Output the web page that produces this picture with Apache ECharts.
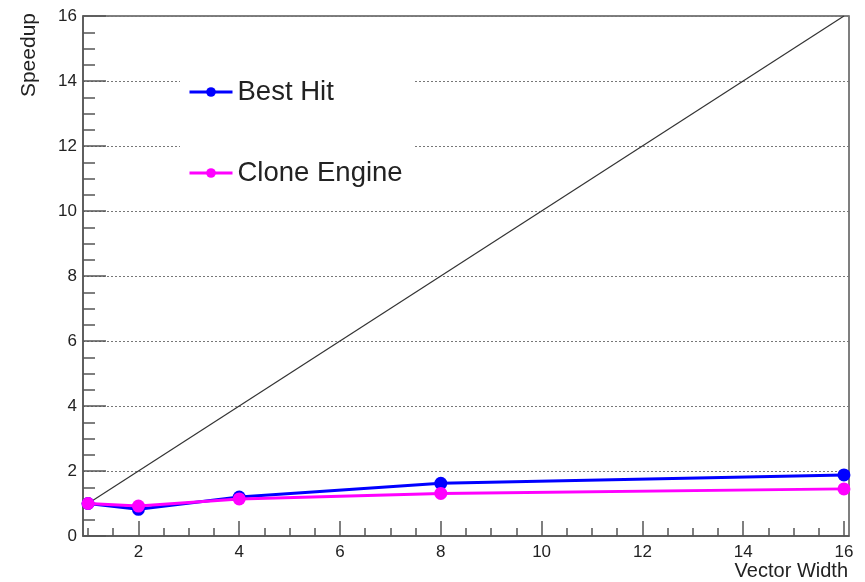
<!DOCTYPE html>
<html>
<head>
<meta charset="utf-8">
<script src="https://cdn.jsdelivr.net/npm/echarts@6/dist/echarts.min.js"></script>
<style>
  html, body { margin: 0; padding: 0; background: #fff; }
  #chart { width: 865px; height: 582px; }
</style>
</head>
<body>
<div id="chart"></div>
<script>
// vector widths and measured speedups
const widths = [1, 2, 4, 8, 16]
const bestHit = [1.0, 0.82, 1.2, 1.62, 1.88]
const cloneEngine = [1.0, 0.92, 1.14, 1.31, 1.45]
const idealLine = [[1, 1], [16, 16]]

const xMajorTicks = [2, 4, 6, 8, 10, 12, 14, 16]
const xMinorTicks = [1, 1.5, 2.5, 3, 3.5, 4.5, 5, 5.5, 6.5, 7, 7.5, 8.5, 9, 9.5,
  10.5, 11, 11.5, 12.5, 13, 13.5, 14.5, 15, 15.5]

const font = 'Liberation Sans, Arial, sans-serif'
const axisColor = '#555'
const textColor = '#222'

const chart = echarts.init(document.getElementById('chart'), null, { renderer: 'canvas' })

const pair = (xs, ys) => xs.map((x, i) => [x, ys[i]])

chart.setOption({
  backgroundColor: '#fff',
  animation: false,
  grid: {
    left: 83, right: 16, top: 16, bottom: 46,
    show: true, borderColor: axisColor, borderWidth: 1.5,
  },
  legend: {
    orient: 'vertical',
    left: 180, top: 57,
    backgroundColor: '#fff',
    padding: [21, 12, 19, 8],
    itemWidth: 43, itemHeight: 12,
    itemGap: 53,
    lineStyle: { width: 3 },
    textStyle: { fontFamily: font, fontSize: 27.5, color: textColor },
    data: ['Best Hit', 'Clone Engine'],
    z: 10,
  },
  xAxis: [{
    type: 'value', min: 0.9, max: 16.1,
    axisLine: { show: true, onZero: false, lineStyle: { color: axisColor, width: 1.5 } },
    axisTick: { show: true, inside: true, length: 15, customValues: xMajorTicks,
      lineStyle: { color: axisColor, width: 1.5 } },
    axisLabel: { customValues: xMajorTicks, color: textColor, fontFamily: font,
      fontSize: 17, margin: 8 },
    splitLine: { show: false },
  }, {
    type: 'value', min: 0.9, max: 16.1, position: 'bottom',
    axisLine: { show: false },
    axisTick: { show: true, inside: true, length: 8, customValues: xMinorTicks,
      lineStyle: { color: axisColor, width: 1.5 } },
    axisLabel: { show: false },
    splitLine: { show: false },
  }],
  yAxis: {
    type: 'value', min: 0, max: 16, interval: 2,
    axisLine: { show: true, lineStyle: { color: axisColor, width: 1.5 } },
    axisTick: { show: true, inside: true, length: 23, lineStyle: { color: axisColor, width: 1.5 } },
    minorTick: { show: true, splitNumber: 4, length: 12, lineStyle: { color: axisColor, width: 1.5 } },
    axisLabel: { color: textColor, fontFamily: font, fontSize: 17, margin: 6 },
    splitLine: { show: true, lineStyle: { color: '#777', type: [2, 2], width: 1 } },
  },
  graphic: [{
    type: 'text', left: 19, top: 13, rotation: Math.PI / 2,
    style: { text: 'Speedup', font: '21px ' + font, fill: textColor },
  }, {
    type: 'text', right: 17, top: 561,
    style: { text: 'Vector Width', font: '20px ' + font, fill: textColor },
  }],
  series: [{
    name: 'ideal', type: 'line', data: idealLine,
    showSymbol: false, silent: true,
    lineStyle: { color: '#333', width: 1.2 }, z: 1,
  }, {
    name: 'Best Hit', type: 'line', data: pair(widths, bestHit),
    symbol: 'circle', symbolSize: 13,
    lineStyle: { color: '#0000ff', width: 3 },
    itemStyle: { color: '#0000ff' }, z: 2,
  }, {
    name: 'Clone Engine', type: 'line', data: pair(widths, cloneEngine),
    symbol: 'circle', symbolSize: 13,
    lineStyle: { color: '#ff00ff', width: 3 },
    itemStyle: { color: '#ff00ff' }, z: 3,
  }],
})
</script>
</body>
</html>
